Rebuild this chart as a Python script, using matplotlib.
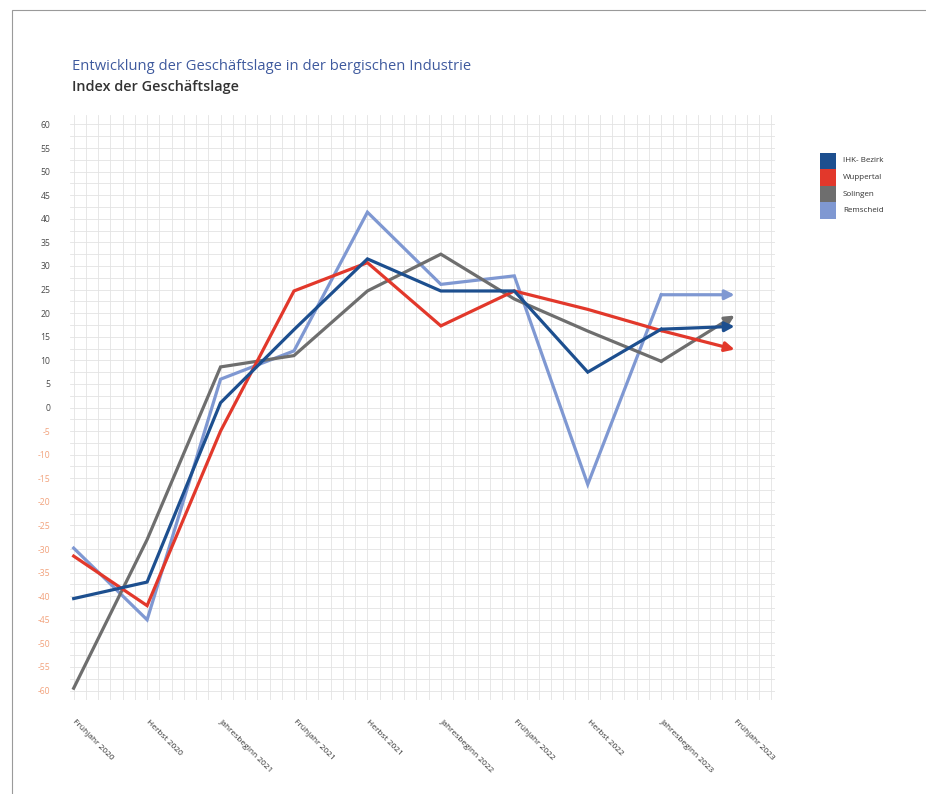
import numpy as np
import matplotlib.pyplot as plt
from matplotlib.patches import Rectangle
from matplotlib.ticker import MultipleLocator, FixedLocator

plt.rcParams["font.family"] = ["Open Sans", "DejaVu Sans"]

# Umfragezeitpunkte und Index der Geschäftslage je Region
perioden = ["Frühjahr 2020", "Herbst 2020", "Jahresbeginn 2021", "Frühjahr 2021",
            "Herbst 2021", "Jahresbeginn 2022", "Frühjahr 2022", "Herbst 2022",
            "Jahresbeginn 2023", "Frühjahr 2023"]
ihk_bezirk = [-40.5, -37, 1, 16.5, 31.5, 24.7, 24.7, 7.5, 16.6, 17.2]
wuppertal  = [-31.5, -42, -5, 24.7, 30.7, 17.3, 24.7, 20.8, 16.3, 12.3]
solingen   = [-59.5, -28, 8.6, 11, 24.7, 32.5, 23, 16.2, 9.8, 19.5]
remscheid  = [-29.8, -45, 6, 12, 41.4, 26.1, 27.9, -16.3, 23.9, 23.9]

namen  = ["IHK- Bezirk", "Wuppertal", "Solingen", "Remscheid"]
farben = ["#1d4f8f", "#e2382b", "#6e6e6e", "#7f98d2"]
reihen = [ihk_bezirk, wuppertal, solingen, remscheid]
# Zeichenreihenfolge: hellblau zuunterst, IHK-Bezirk oben
reihenfolge = [3, 2, 1, 0]

fig = plt.figure(figsize=(9.26, 7.94), dpi=100)
fig.patch.set_facecolor("white")

# dünner Rahmen um die Grafik
fig.patches.append(Rectangle((12 / 926, -0.05), 1.2, (794 - 10) / 794 + 0.05,
                             transform=fig.transFigure, fill=False,
                             edgecolor="#9a9a9a", lw=0.8))

ax = fig.add_axes([70 / 926, (794 - 700) / 794, 705 / 926, 585 / 794])
x = np.arange(len(perioden))

for i in reihenfolge:
    werte = reihen[i]
    ax.plot(x[:-1], werte[:-1], color=farben[i], lw=2.3,
            solid_joinstyle="miter", zorder=3 + (3 - i))
    ax.annotate("", xy=(x[-1], werte[-1]), xytext=(x[-2], werte[-2]),
                arrowprops=dict(arrowstyle="-|>", color=farben[i], lw=2.3,
                                mutation_scale=14, shrinkA=0, shrinkB=0),
                zorder=3 + (3 - i))

ax.set_xlim(-0.05, 9.55)
ax.set_ylim(-62, 62)

# feines Raster
ax.xaxis.set_minor_locator(MultipleLocator(1 / 6))
ax.yaxis.set_minor_locator(MultipleLocator(2.5))
ax.grid(which="both", color="#e3e3e3", lw=0.6)
ax.set_axisbelow(True)
for sp in ax.spines.values():
    sp.set_visible(False)

ax.xaxis.set_major_locator(FixedLocator(x))
ax.set_xticklabels(perioden, rotation=-45, rotation_mode="anchor",
                   ha="left", va="center", fontsize=6, color="#333333")
ax.set_yticks(np.arange(-60, 61, 5))
ax.set_yticklabels([str(v) for v in np.arange(-60, 61, 5)], fontsize=6.2)
for lab, v in zip(ax.get_yticklabels(), np.arange(-60, 61, 5)):
    lab.set_color("#f2a27c" if v < 0 else "#4a4a4a")
ax.tick_params(which="both", length=0)
ax.tick_params(axis="y", pad=14)
ax.tick_params(axis="x", pad=15)

# Titel
fig.text(72 / 926, 1 - 67 / 794, "Entwicklung der Geschäftslage in der bergischen Industrie",
         fontsize=10.6, color="#3f5a9e", fontweight="medium", va="center", ha="left")
fig.text(72 / 926, 1 - 87 / 794, "Index der Geschäftslage",
         fontsize=10.4, color="#333333", fontweight="semibold", va="center", ha="left")

# Legende als Farbbalken
for k, (name, farbe) in enumerate(zip(namen, farben)):
    y0 = 153 + k * 16.5
    fig.patches.append(Rectangle((820 / 926, 1 - (y0 + 16.5) / 794), 16 / 926, 16.5 / 794,
                                 transform=fig.transFigure, color=farbe, lw=0))
    fig.text(843 / 926, 1 - (y0 + 8) / 794, name, fontsize=5.8,
             color="#333333", va="center", ha="left")

fig.savefig("out.png", dpi=100)
